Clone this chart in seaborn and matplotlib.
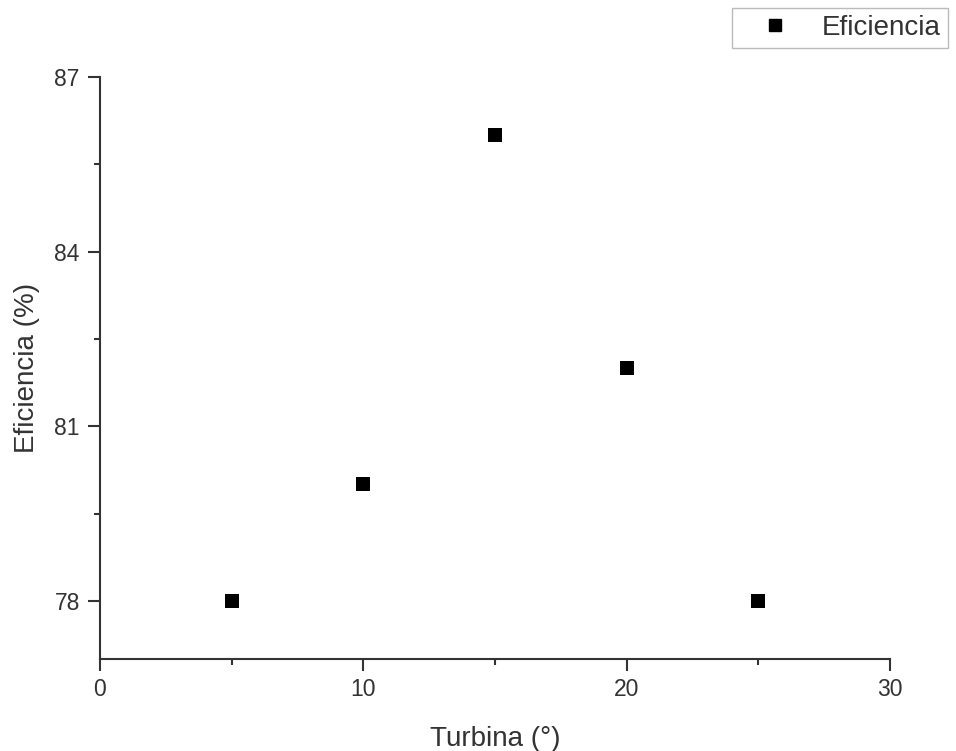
import matplotlib
matplotlib.use("Agg")
import matplotlib.pyplot as plt
import seaborn as sns
import pandas as pd
from matplotlib.ticker import MultipleLocator

turbina = [5, 10, 15, 20, 25]
eficiencia = [78, 80, 86, 82, 78]
series_name = "Eficiencia"

df = pd.DataFrame({"Turbina": turbina, "Eficiencia": eficiencia})

sns.set_style("white")
plt.rcParams['font.family'] = ['Liberation Sans', 'DejaVu Sans']

fig = plt.figure(figsize=(9.56, 7.51), dpi=100)
ax = fig.add_axes([100/956, 1-659/751, 790/956, 582/751])

sns.scatterplot(data=df, x="Turbina", y="Eficiencia", marker="s", color="black",
                s=95, edgecolor="black", linewidth=0, ax=ax, label=series_name, legend=False)

ax.set_xlim(0, 30)
ax.set_ylim(77, 87)
ax.xaxis.set_major_locator(MultipleLocator(10))
ax.xaxis.set_minor_locator(MultipleLocator(5))
ax.set_yticks([78, 81, 84, 87])
ax.set_yticks([79.5, 82.5, 85.5], minor=True)

for s in ["top", "right"]:
    ax.spines[s].set_visible(False)
for s in ["left", "bottom"]:
    ax.spines[s].set_color("#333333")
    ax.spines[s].set_linewidth(1.5)

ax.tick_params(axis="both", which="major", direction="out", length=8.5, width=1.5,
               color="#333333", labelsize=16.5, labelcolor="#333333", left=True, bottom=True)
ax.tick_params(axis="y", which="major", pad=6)
ax.tick_params(axis="x", which="major", pad=5)
ax.tick_params(axis="both", which="minor", direction="out", length=4.5, width=1.5,
               color="#333333", left=True, bottom=True)

ax.set_xlabel("Turbina (°)", fontsize=20, color="#333333", labelpad=18)
ax.set_ylabel("Eficiencia (%)", fontsize=20, color="#333333", labelpad=10)

h = [plt.Line2D([], [], marker="s", linestyle="none", color="black", markersize=9)]
leg = fig.legend(h, [series_name], loc="upper right",
                 bbox_to_anchor=(948/956, 1-8/751), fontsize=20, frameon=True,
                 fancybox=False, handletextpad=0.4, borderpad=0.25, handlelength=2.6,
                 borderaxespad=0)
leg.get_frame().set_edgecolor("#aaaaaa")
leg.get_frame().set_linewidth(1.0)
for t in leg.get_texts():
    t.set_color("#333333")

fig.savefig("out.png", dpi=100)
